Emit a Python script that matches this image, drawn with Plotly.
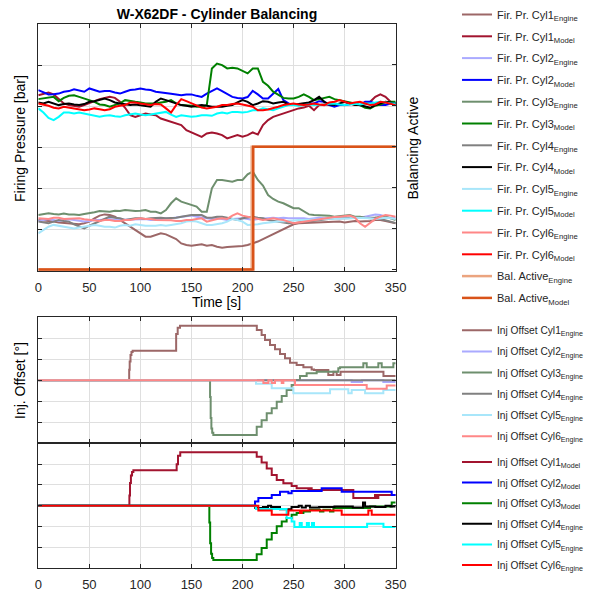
import plotly.graph_objects as go

# ---------------- data ----------------
TIME = list(range(0, 355, 5))

FP_CYL1_ENGINE = [124.8, 124.6, 124.3, 124.0, 123.6, 123.3, 123.2, 122.8, 122.7, 123.2,
                  124.0, 125.6, 126.9, 127.5, 127.2, 126.4, 124.8, 123.2, 121.5, 119.9,
                  118.3, 116.7, 116.7, 117.5, 118.3, 117.8, 116.7, 115.5, 113.4, 112.6,
                  112.3, 112.6, 113.0, 112.3, 112.6, 111.8, 111.3, 111.7, 111.8, 111.7,
                  112.1, 112.6, 113.4, 114.3, 115.5, 116.7, 117.5, 118.8, 119.9, 121.5,
                  122.7, 123.2, 123.3, 123.2, 123.5, 123.6, 123.5, 123.6, 124.0, 124.0,
                  123.6, 124.0, 124.3, 124.0, 124.0, 124.3, 124.8, 124.8, 124.3, 123.6, 123.2]
FP_CYL1_MODEL = [185.4, 186.2, 186.7, 185.8, 183.8, 181.4, 180.6, 180.3, 179.8, 180.6,
                 181.4, 182.5, 183.5, 184.1, 184.6, 184.1, 182.2, 179.3, 175.7, 174.9,
                 175.7, 176.5, 176.0, 175.7, 174.1, 173.3, 172.5, 171.7, 170.9, 168.4,
                 167.3, 166.0, 165.2, 166.8, 167.3, 166.8, 166.0, 164.4, 165.2, 166.0,
                 165.2, 166.0, 167.3, 166.3, 170.9, 173.3, 174.9, 175.7, 176.5, 177.3,
                 178.1, 179.0, 179.4, 180.3, 178.1, 180.6, 180.9, 180.6, 181.4, 180.9,
                 180.6, 181.4, 180.9, 180.6, 181.4, 182.2, 184.6, 185.8, 184.6, 182.2, 181.4]
FP_CYL2_ENGINE = [124.3, 124.8, 125.3, 124.8, 124.3, 124.8, 125.1, 124.8, 124.3, 124.0,
                  124.3, 124.8, 124.8, 125.1, 125.3, 124.8, 124.8, 125.1, 124.8, 124.8,
                  125.1, 125.3, 124.8, 124.8, 125.3, 125.6, 125.6, 125.9, 126.4, 126.4,
                  126.9, 126.4, 125.9, 125.6, 125.3, 125.6, 125.3, 124.8, 125.3, 125.6,
                  125.6, 125.3, 124.8, 125.3, 125.6, 125.6, 125.9, 125.6, 125.9, 125.6,
                  125.6, 125.9, 125.6, 125.3, 125.6, 125.9, 125.6, 125.9, 125.9, 125.6,
                  125.6, 125.9, 125.6, 125.9, 126.4, 126.9, 127.5, 127.2, 126.4, 125.6, 125.9]
FP_CYL2_MODEL = [187.9, 186.7, 185.8, 185.9, 186.2, 187.1, 187.4, 188.3, 187.7, 187.1,
                 188.7, 187.9, 187.1, 187.4, 187.4, 186.7, 186.2, 187.1, 187.9, 188.2,
                 188.7, 188.2, 187.9, 187.1, 186.7, 186.2, 186.1, 185.8, 185.4, 185.8,
                 185.8, 185.1, 184.6, 186.2, 187.4, 188.7, 187.4, 185.8, 184.6, 184.1,
                 183.8, 184.5, 187.5, 185.8, 183.8, 183.8, 186.2, 188.4, 183.0, 181.4,
                 180.6, 180.9, 180.6, 181.4, 181.4, 182.5, 182.2, 180.6, 179.8, 180.6,
                 180.6, 180.9, 181.4, 180.6, 182.2, 182.2, 181.4, 180.6, 180.6, 181.4, 181.4]
FP_CYL3_ENGINE = [127.2, 127.5, 128.0, 127.7, 127.5, 127.9, 127.5, 127.5, 127.2, 127.7,
                  128.0, 128.5, 129.1, 128.8, 128.8, 129.3, 129.1, 129.6, 129.3, 129.1,
                  129.3, 129.6, 128.8, 128.8, 128.0, 129.6, 132.9, 135.3, 133.7, 132.9,
                  132.4, 131.3, 128.8, 128.8, 140.2, 144.2, 144.2, 143.7, 143.4, 144.2,
                  144.2, 147.0, 148.3, 144.2, 141.5, 136.9, 135.0, 133.7, 132.9, 131.7,
                  130.5, 130.5, 128.8, 127.5, 127.2, 127.2, 126.9, 126.9, 126.4, 126.7,
                  126.9, 127.2, 126.4, 126.4, 125.9, 125.6, 125.9, 126.4, 126.4, 125.6, 124.8]
FP_CYL3_MODEL = [183.5, 183.8, 184.1, 184.6, 182.5, 184.1, 185.1, 185.4, 184.6, 183.8,
                 183.0, 182.2, 180.9, 180.6, 179.8, 180.6, 181.4, 183.0, 182.5, 182.2,
                 181.9, 181.4, 181.4, 181.4, 181.9, 182.2, 183.0, 181.4, 180.6, 180.6,
                 180.3, 179.8, 179.8, 180.6, 198.4, 200.8, 200.0, 198.4, 198.7, 198.4,
                 197.1, 196.0, 198.4, 198.4, 191.9, 190.0, 187.1, 185.4, 184.1, 183.8,
                 183.8, 184.6, 185.8, 184.6, 183.0, 183.5, 184.1, 184.6, 183.5, 183.0,
                 182.5, 182.2, 181.4, 180.6, 179.3, 179.0, 180.3, 180.9, 181.9, 182.2, 182.2]
FP_CYL4_ENGINE = [124.0, 123.6, 123.2, 124.0, 124.8, 124.3, 124.0, 122.7, 121.5, 120.7,
                  122.0, 123.2, 124.3, 125.3, 126.4, 125.9, 125.6, 124.8, 125.3, 125.6,
                  125.6, 125.3, 125.6, 125.9, 125.9, 125.6, 125.6, 125.9, 126.4, 126.9,
                  127.2, 127.2, 127.2, 125.9, 125.9, 126.4, 126.4, 125.9, 125.3, 124.8,
                  125.6, 125.9, 126.4, 125.9, 125.6, 124.8, 124.3, 124.0, 123.6, 123.2,
                  123.2, 123.6, 124.0, 124.0, 124.3, 124.8, 124.8, 125.3, 125.6, 125.6,
                  125.6, 125.6, 125.9, 125.6, 125.6, 125.9, 125.9, 125.3, 124.8, 124.0, 123.2]
FP_CYL4_MODEL = [181.9, 181.4, 182.2, 181.4, 180.6, 181.1, 181.4, 180.9, 180.6, 181.1,
                 182.2, 182.5, 183.0, 183.8, 183.0, 181.9, 181.4, 180.9, 180.6, 180.9,
                 180.6, 180.3, 179.8, 182.2, 183.8, 183.0, 182.2, 181.4, 180.6, 180.3,
                 179.8, 180.3, 180.6, 180.3, 179.8, 179.8, 179.8, 180.3, 180.6, 181.9,
                 183.0, 182.2, 180.6, 181.4, 182.5, 182.2, 181.4, 181.9, 182.2, 180.9,
                 180.6, 181.1, 181.4, 181.9, 183.0, 184.6, 182.2, 180.9, 180.6, 181.4,
                 182.2, 181.4, 180.6, 180.6, 179.8, 179.3, 180.6, 181.4, 182.2, 181.9, 181.4]
FP_CYL5_ENGINE = [118.3, 119.9, 121.5, 122.4, 122.0, 121.5, 121.1, 120.7, 121.1, 121.5,
                  122.0, 122.4, 122.0, 121.5, 121.5, 121.1, 122.0, 122.4, 122.0, 122.7,
                  122.4, 122.0, 122.0, 122.0, 122.4, 122.0, 122.4, 122.7, 123.2, 124.0,
                  124.3, 124.0, 123.2, 122.4, 122.4, 122.7, 123.2, 124.0, 125.3, 124.8,
                  124.0, 122.4, 122.4, 122.7, 123.2, 123.5, 123.6, 124.0, 124.0, 124.3,
                  124.3, 124.8, 124.8, 124.8, 124.8, 125.1, 125.3, 125.3, 125.6, 125.6,
                  125.6, 125.6, 125.9, 125.9, 125.6, 125.6, 125.3, 125.6, 125.9, 125.6, 125.3]
FP_CYL5_MODEL = [179.0, 177.0, 174.4, 173.3, 174.9, 177.0, 177.0, 176.5, 177.0, 176.5,
                 175.7, 175.2, 174.9, 175.4, 175.7, 175.2, 174.9, 175.7, 176.0, 176.5,
                 176.0, 175.7, 176.0, 176.5, 177.0, 177.3, 176.0, 174.9, 175.7, 175.4,
                 174.9, 175.2, 175.7, 175.7, 175.4, 176.5, 177.0, 176.5, 177.3, 177.3,
                 177.0, 177.3, 178.1, 178.1, 179.0, 178.6, 178.1, 179.0, 179.8, 180.6,
                 180.6, 180.3, 180.6, 180.9, 180.6, 180.6, 180.9, 181.2, 181.4, 180.9,
                 180.6, 180.9, 181.2, 180.9, 181.4, 181.4, 181.7, 182.2, 181.9, 181.4, 181.4]
FP_CYL6_ENGINE = [125.6, 125.3, 125.3, 125.9, 125.9, 125.3, 125.3, 125.6, 125.6, 125.1,
                  124.8, 124.5, 124.3, 124.8, 124.8, 124.3, 124.3, 124.8, 124.8, 125.3,
                  125.6, 125.3, 125.3, 124.8, 124.8, 124.8, 124.6, 124.3, 124.3, 124.8,
                  124.8, 125.3, 125.6, 124.0, 124.8, 125.3, 125.6, 125.3, 126.9, 128.0,
                  126.9, 126.4, 125.6, 125.3, 124.8, 125.1, 125.6, 125.1, 124.8, 124.0,
                  123.2, 123.6, 124.0, 124.3, 124.8, 125.3, 125.6, 125.9, 126.2, 126.4,
                  126.7, 126.9, 125.9, 123.2, 121.5, 123.6, 125.3, 126.4, 127.2, 126.9, 126.4]
FP_CYL6_MODEL = [181.4, 180.9, 180.3, 179.3, 179.0, 179.8, 179.4, 179.0, 178.6, 178.1,
                 178.5, 179.0, 178.6, 178.1, 178.6, 179.8, 180.3, 180.6, 181.9, 181.9,
                 181.4, 180.9, 180.6, 181.1, 180.9, 179.0, 177.0, 180.6, 183.5, 182.5,
                 181.4, 180.3, 179.4, 179.0, 179.3, 179.8, 180.6, 180.6, 181.1, 181.4,
                 180.9, 180.3, 179.8, 178.1, 178.1, 178.5, 179.0, 179.8, 180.6, 181.1,
                 181.4, 180.9, 180.6, 180.9, 181.4, 180.9, 180.6, 181.9, 182.2, 183.0,
                 182.2, 181.4, 181.9, 182.2, 181.4, 180.6, 180.9, 182.2, 181.9, 181.4, 180.6]

BAL_ENGINE_T = [0, 209.0, 350]
BAL_ENGINE_V = [0, 1, 1]
BAL_MODEL_T = [0, 210.5, 350]
BAL_MODEL_V = [0, 1, 1]

# injection offsets, engine side (middle panel)
INJ_E1_T = [0, 89.0, 89.5, 90.3, 91.2, 92.4, 135.0, 136.5, 138.8, 214.0, 218.7, 222.0, 226.9, 231.8,
            236.7, 241.6, 246.5, 253.0, 259.6, 267.7, 270.0, 284.0, 289.0, 292.2, 296.0, 299.0, 338.0, 350]
INJ_E1_V = [0, 0.5, 0.9, 1.2, 1.35, 1.41, 2.2, 2.5, 2.6, 2.4, 2.16, 1.92, 1.68, 1.48,
            1.25, 1.05, 0.84, 0.73, 0.62, 0.52, 0.49, 0.25, 0.41, 0.25, 0.41, 0.41, 0.2, 0.2]
INJ_E2_T = [0, 306.9, 317.0, 337.9, 350]
INJ_E2_V = [0, -0.08, 0, -0.08, -0.08]
INJ_E3_T = [0, 168.2, 168.8, 169.5, 170.3, 171.4, 213.9, 218.7, 223.7, 228.6, 233.5, 238.4, 243.2,
            248.1, 251.4, 256.3, 262.8, 272.6, 293.8, 295.5, 318.3, 321.6, 333.0, 336.3, 347.7, 350]
INJ_E3_V = [0, -0.8, -1.8, -2.3, -2.5, -2.6, -2.21, -1.9, -1.57, -1.33, -1.02, -0.75, -0.46,
            -0.22, 0.02, 0.21, 0.33, 0.41, 0.57, 0.62, 0.81, 0.62, 0.81, 0.62, 0.81, 0.81]
INJ_E4_T = [0, 350]
INJ_E4_V = [0, 0]
INJ_E5_T = [0, 213.2, 228.6, 249.8, 285.7, 303.6, 306.9, 320.0, 337.9, 350]
INJ_E5_V = [0, -0.17, -0.38, -0.62, -0.43, -0.62, -0.46, -0.62, -0.46, -0.46]
INJ_E6_T = [0, 220.4, 225.3, 228.6, 231.8, 238.4, 240.0, 251.4, 321.6, 341.2, 350]
INJ_E6_V = [0, -0.13, 0, -0.13, 0, -0.13, 0, -0.22, -0.40, -0.25, -0.25]

# injection offsets, model side (bottom panel)
INJ_M1_T = [0, 89.2, 89.8, 90.7, 91.8, 93.1, 135.5, 136.8, 139.0, 213.9, 218.7, 223.7, 228.6, 233.5,
            240.0, 248.1, 253.0, 264.5, 266.1, 267.7, 308.5, 329.7, 331.4, 333.0, 350]
INJ_M1_V = [0, 0.5, 1.1, 1.45, 1.62, 1.71, 2.0, 2.4, 2.57, 2.35, 2.08, 1.79, 1.48, 1.24,
            1.08, 0.95, 0.84, 0.76, 0.84, 0.76, 0.37, 0.52, 0.37, 0.52, 0.52]
INJ_M2_T = [0, 212.2, 215.5, 228.6, 236.7, 244.9, 248.1, 277.5, 297.1, 346.1, 350]
INJ_M2_V = [0, 0.21, 0.37, 0.52, 0.68, 0.6, 0.71, 0.84, 0.68, 0.52, 0.52]
INJ_M3_T = [0, 167.5, 168.3, 169.2, 170.2, 171.4, 213.9, 218.7, 223.7, 228.6, 233.5, 238.4, 243.2,
            248.1, 253.0, 259.6, 266.1, 275.9, 279.2, 285.7, 289.0, 324.9, 346.1, 350]
INJ_M3_V = [0, -0.8, -1.8, -2.3, -2.5, -2.6, -2.33, -2.02, -1.62, -1.3, -0.98, -0.75, -0.59,
            -0.43, -0.35, -0.27, -0.19, -0.27, -0.19, -0.27, -0.11, -0.03, 0.16, 0.16]
INJ_M4_T = [0, 212.5, 220, 225, 228, 236.7, 248, 255, 258, 262, 266, 275, 290, 308, 318, 320, 330, 340, 345, 350]
INJ_M4_V = [0, -0.1, -0.06, 0.0, -0.06, -0.16, -0.06, 0.0, -0.08, 0.0, -0.08, -0.06, -0.03, -0.08, 0.16,
            -0.03, -0.06, 0.0, -0.03, -0.03]
INJ_M5_T = [0, 213.2, 243.2, 248.1, 250.8, 256, 258, 263, 265, 268, 270, 322, 338, 350]
INJ_M5_V = [0, -0.15, -0.59, -0.75, -1.02, -0.83, -1.02, -0.83, -1.02, -0.83, -1.02, -0.86, -1.02, -1.02]
INJ_M6_T = [0, 215.5, 228.6, 244.9, 256.3, 258, 297.1, 323.2, 326.5, 350]
INJ_M6_V = [0, -0.22, -0.43, -0.22, -0.35, -0.22, -0.43, -0.22, -0.43, -0.43]

X_TICKS = [0, 50, 100, 150, 200, 250, 300, 350]

# ---------------- styling ----------------
FONT = "Liberation Sans, Arial, sans-serif"
INK = "#262626"
GRID = "#dfdfdf"
C_ENG = ["#9c6767", "#aaaaff", "#6e8f6e", "#808080", "#a8e6fa", "#ff8787"]
C_MOD = ["#a2142f", "#0000ff", "#008000", "#000000", "#00ffff", "#ff0000"]
C_BAL_E = "#eba47f"
C_BAL_M = "#d95319"

W, H = 590, 594
def fx(p):
    return p / W
def fy(p):
    return 1 - p / H

X0, X1 = 38.3, 395.7

fig = go.Figure()

def add(x, y, name, color, legend, xa, ya, width=2.0, shape="linear"):
    fig.add_trace(go.Scatter(
        x=x, y=y, name=name, mode="lines",
        line=dict(color=color, width=width, shape=shape),
        legend=legend, legendgroup=name, xaxis=xa, yaxis=ya,
        hoverinfo="skip"))

FP_ENG = [FP_CYL1_ENGINE, FP_CYL2_ENGINE, FP_CYL3_ENGINE, FP_CYL4_ENGINE, FP_CYL5_ENGINE, FP_CYL6_ENGINE]
FP_MOD = [FP_CYL1_MODEL, FP_CYL2_MODEL, FP_CYL3_MODEL, FP_CYL4_MODEL, FP_CYL5_MODEL, FP_CYL6_MODEL]
for i in range(6):
    add(TIME, FP_ENG[i], f"Fir. Pr. Cyl{i+1}<sub>Engine</sub>", C_ENG[i], "legend", "x", "y", 2.0)
    add(TIME, FP_MOD[i], f"Fir. Pr. Cyl{i+1}<sub>Model</sub>", C_MOD[i], "legend", "x", "y", 2.0)
add(BAL_ENGINE_T, BAL_ENGINE_V, "Bal. Active<sub>Engine</sub>", C_BAL_E, "legend", "x", "y2", 2.5, "hv")
add(BAL_MODEL_T, BAL_MODEL_V, "Bal. Active<sub>Model</sub>", C_BAL_M, "legend", "x", "y2", 2.5, "hv")

INJ_E = [(INJ_E1_T, INJ_E1_V), (INJ_E2_T, INJ_E2_V), (INJ_E3_T, INJ_E3_V),
         (INJ_E4_T, INJ_E4_V), (INJ_E5_T, INJ_E5_V), (INJ_E6_T, INJ_E6_V)]
for i, (t, v) in enumerate(INJ_E):
    add(t, v, f"Inj Offset Cyl{i+1}<sub>Engine</sub>", C_ENG[i], "legend2", "x2", "y3", 2.0, "hv")

INJ_M = [(INJ_M1_T, INJ_M1_V), (INJ_M2_T, INJ_M2_V), (INJ_M3_T, INJ_M3_V),
         (INJ_M4_T, INJ_M4_V), (INJ_M5_T, INJ_M5_V), (INJ_M6_T, INJ_M6_V)]
M_SUB = ["Model", "Model", "Model", "Engine", "Engine", "Engine"]
for i, (t, v) in enumerate(INJ_M):
    add(t, v, f"Inj Offset Cyl{i+1}<sub>{M_SUB[i]}</sub>", C_MOD[i], "legend3", "x3", "y4", 2.0, "hv")

tickfont = dict(family=FONT, size=13, color=INK)

def xax(anchor, labels):
    return dict(domain=[fx(X0), fx(X1)], anchor=anchor, range=[0, 350], tickvals=X_TICKS,
                showticklabels=labels, ticks="inside", ticklen=4, tickcolor=INK,
                showline=True, linecolor=INK, linewidth=1, mirror="ticks",
                showgrid=True, gridcolor=GRID, gridwidth=1, zeroline=False,
                tickfont=tickfont, ticklabelstandoff=4)

def yax(anchor, dom, rng, dtick, mirror="ticks"):
    return dict(domain=dom, anchor=anchor, range=rng, dtick=dtick, showticklabels=False,
                ticks="inside", ticklen=4, tickcolor=INK, showline=True, linecolor=INK,
                linewidth=1, mirror=mirror, showgrid=True, gridcolor=GRID, gridwidth=1,
                zeroline=False)

legfont = dict(family=FONT, size=11, color=INK)
legfont_small = dict(family=FONT, size=10.2, color=INK)
LEG_X = fx(457)

fig.update_layout(
    width=W, height=H, autosize=False,
    margin=dict(l=0, r=0, t=0, b=0, autoexpand=False),
    paper_bgcolor="white", plot_bgcolor="white",
    font=dict(family=FONT, color=INK),
    title=dict(text="<b>W-X62DF - Cylinder Balancing</b>", x=fx((X0 + X1) / 2), xanchor="center",
               y=fy(14), yanchor="middle", xref="paper", yref="paper",
               font=dict(family=FONT, size=14, color="#000000")),
    xaxis=xax("y", True),
    yaxis=yax("x", [fy(271), fy(24)], [100, 220], 20, mirror=False),
    yaxis2=dict(overlaying="y", side="right", anchor="x", range=[-0.012, 2.0], dtick=1 / 3,
                showticklabels=False, ticks="inside", ticklen=4, tickcolor=INK,
                showline=True, linecolor=INK, linewidth=1, showgrid=False, zeroline=False),
    xaxis2=xax("y3", False),
    yaxis3=yax("x2", [fy(443.3), fy(317.3)], [-3, 3], 1),
    xaxis3=xax("y4", True),
    yaxis4=yax("x3", [fy(568.3), fy(443.3)], [-3, 3], 1),
    legend=dict(x=LEG_X, y=fy(0.0), xanchor="left", yanchor="top", tracegroupgap=2.8,
                traceorder="grouped", font=legfont, bgcolor="rgba(0,0,0,0)"),
    legend2=dict(x=LEG_X, y=fy(315.7), xanchor="left", yanchor="top", tracegroupgap=2.2,
                 traceorder="grouped", font=legfont_small, bgcolor="rgba(0,0,0,0)"),
    legend3=dict(x=LEG_X, y=fy(447.5), xanchor="left", yanchor="top", tracegroupgap=1.6,
                 traceorder="grouped", font=legfont_small, bgcolor="rgba(0,0,0,0)"),
    annotations=[
        dict(text="Firing Pressure [bar]", x=fx(20), y=fy(139), xref="paper", yref="paper",
             textangle=-90, showarrow=False, xanchor="center", yanchor="middle",
             font=dict(family=FONT, size=14, color="#000000")),
        dict(text="Balancing Active", x=fx(412), y=fy(148.5), xref="paper", yref="paper",
             textangle=-90, showarrow=False, xanchor="center", yanchor="middle",
             font=dict(family=FONT, size=14, color="#000000")),
        dict(text="Time [s]", x=fx((X0 + X1) / 2), y=fy(302), xref="paper", yref="paper",
             showarrow=False, xanchor="center", yanchor="middle",
             font=dict(family=FONT, size=14, color="#000000")),
        dict(text="Inj. Offset [°]", x=fx(20), y=fy(381), xref="paper", yref="paper",
             textangle=-90, showarrow=False, xanchor="center", yanchor="middle",
             font=dict(family=FONT, size=14, color="#000000")),
    ],
)

fig.write_html("out.html", config={"displayModeBar": False},
               post_script="document.body.style.margin='0px';")
